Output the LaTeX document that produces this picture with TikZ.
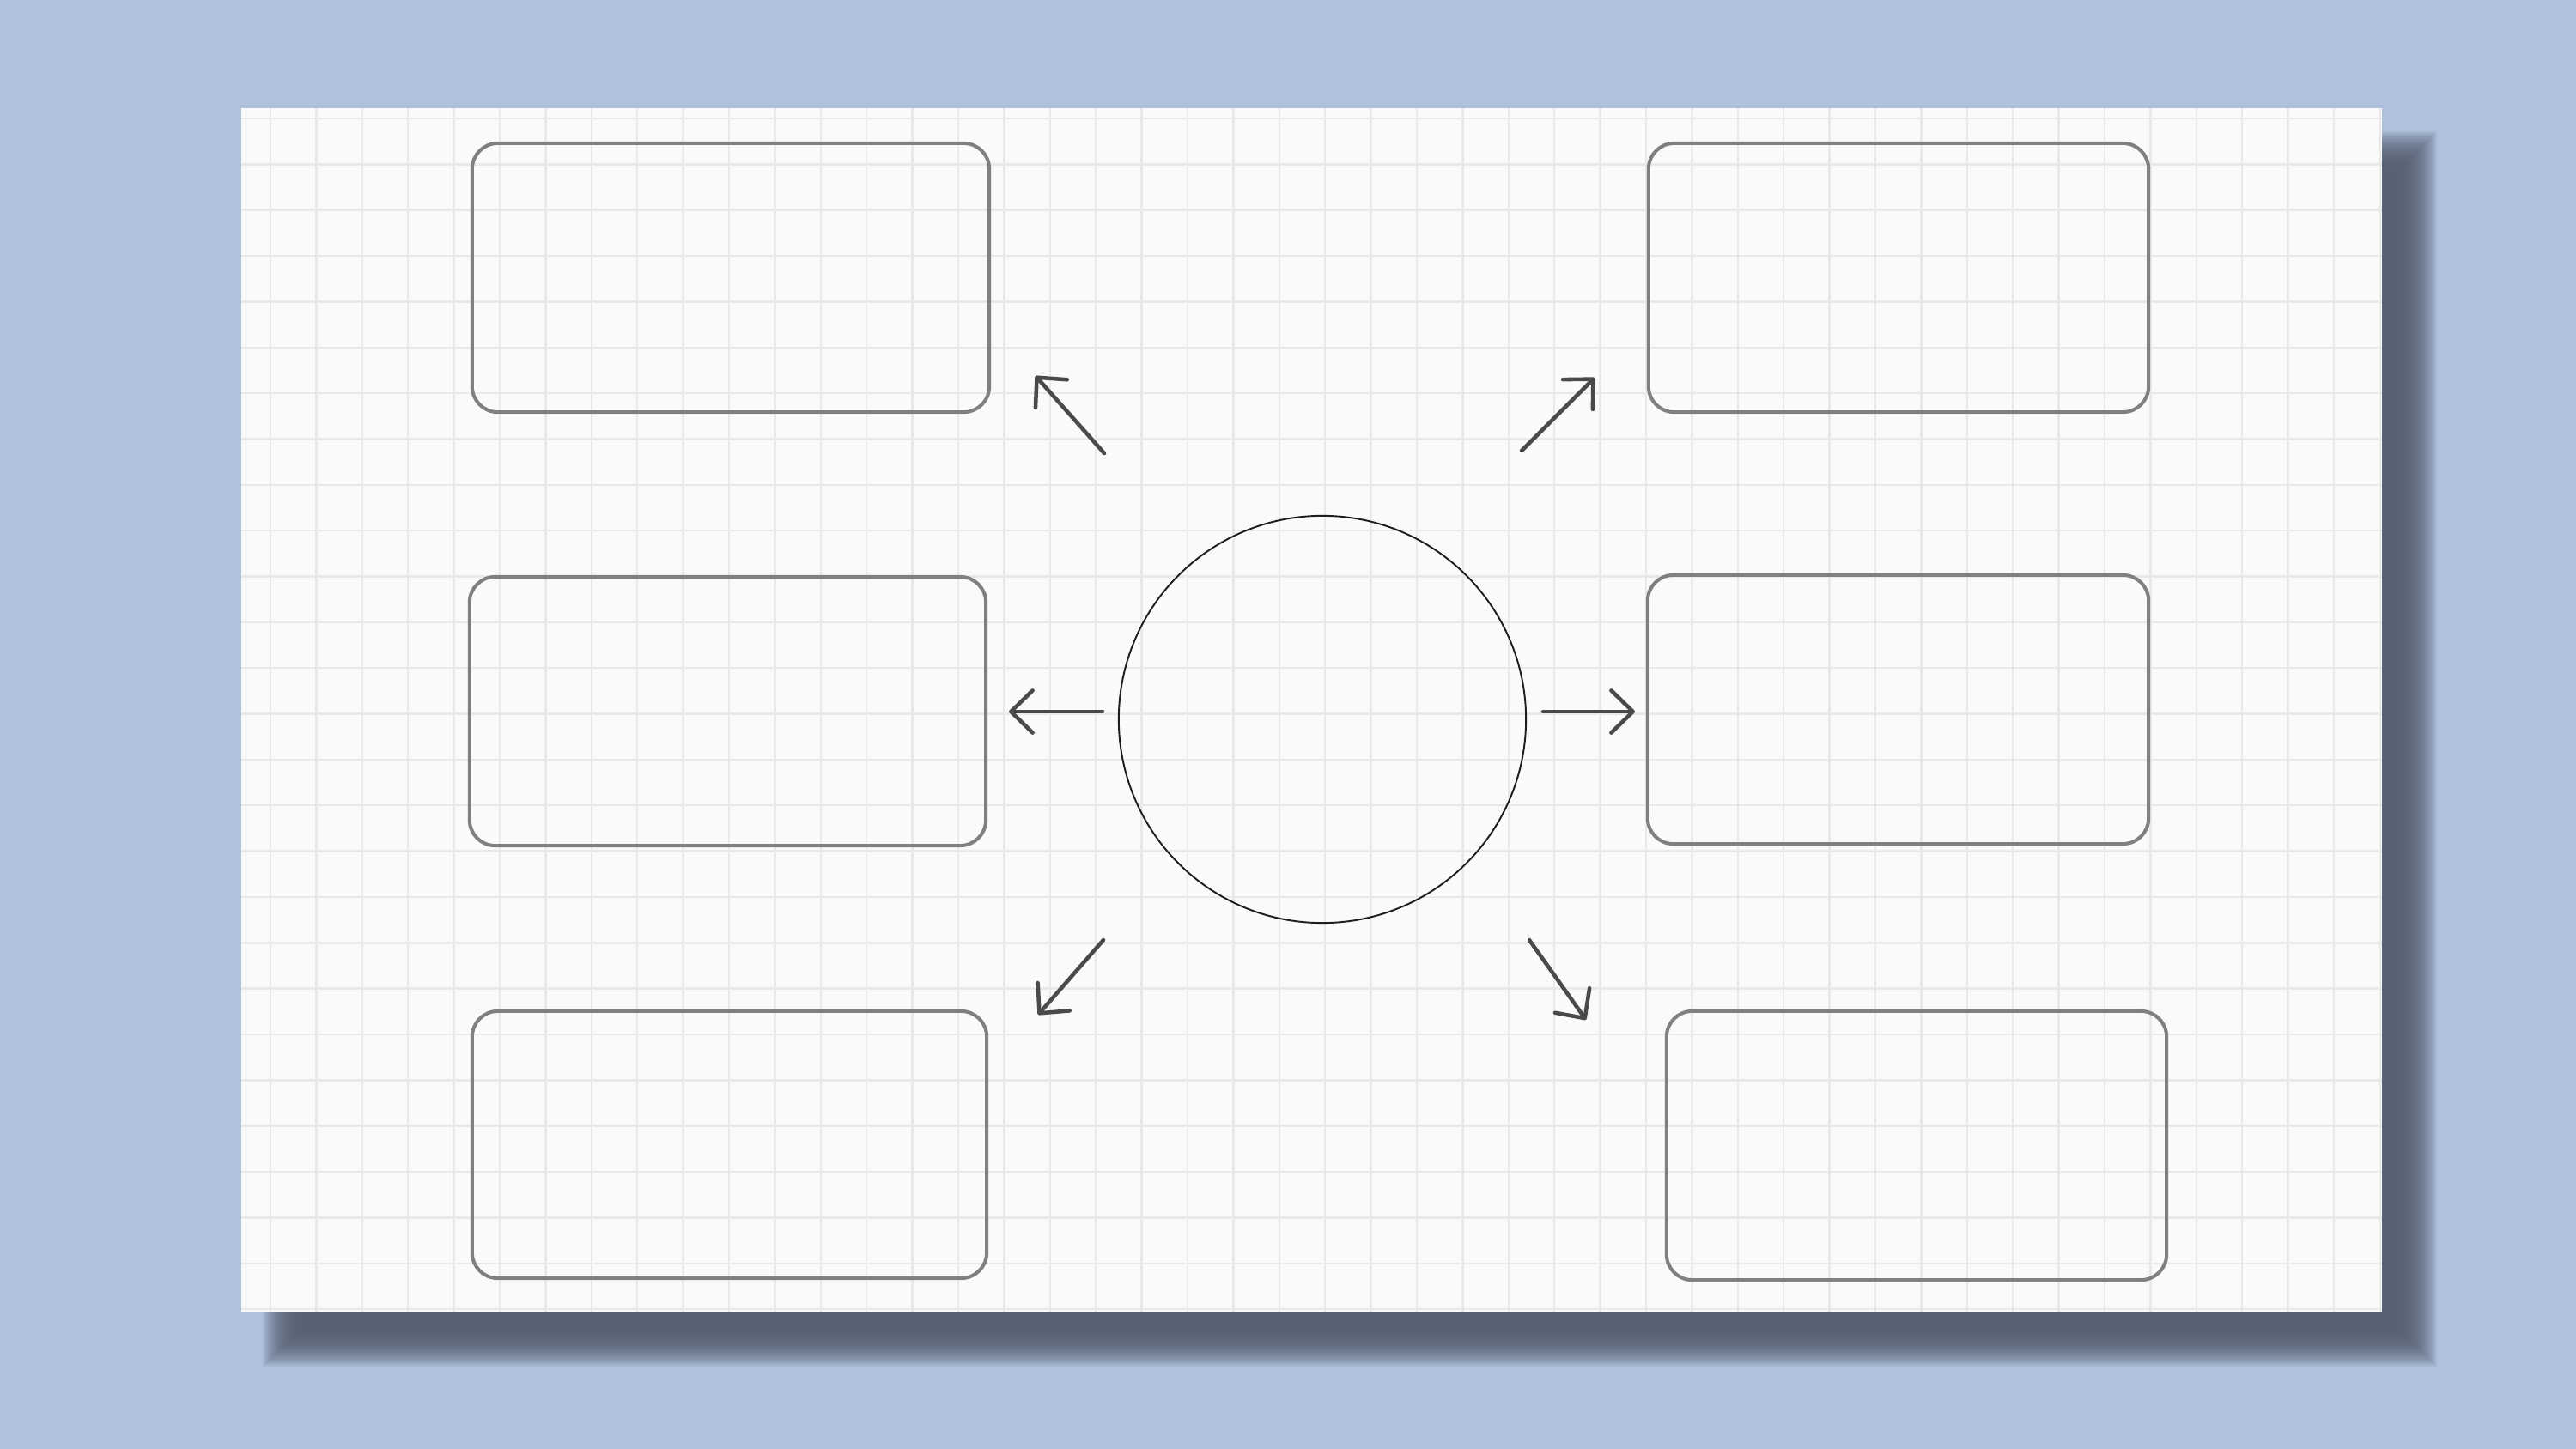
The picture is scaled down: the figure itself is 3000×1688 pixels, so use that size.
\documentclass[tikz,border=0pt]{standalone}
\usetikzlibrary{arrows.meta}
\definecolor{bgc}{RGB}{176,193,222}
\definecolor{shadec}{RGB}{84,93,110}
\definecolor{paperc}{RGB}{250,250,250}
\definecolor{gridc}{RGB}{233,233,233}
\definecolor{boxc}{RGB}{128,128,128}
\definecolor{arrc}{RGB}{74,74,74}
\definecolor{circc}{RGB}{30,30,30}
\begin{document}
\begin{tikzpicture}[x=0.01cm, y=-0.01cm,
  box/.style={draw=boxc, line width=1.15pt, rounded corners=8.5pt, rectangle, inner sep=0pt},
  hub/.style={draw=circc, line width=0.55pt, circle, inner sep=0pt, minimum size=4.74cm},
  ray/.style={draw=arrc, line width=1.3pt, line cap=round, line join=round,
    -{Straight Barb[length=7.2pt, width=14pt, round]}},
  gridline/.style={draw=gridc, line width=0.7pt}]
\useasboundingbox (0,0) rectangle (3000,1688);
\fill[bgc] (0,0) rectangle (3000,1688);
% soft shadow
\foreach \i in {0,...,20} {
  \pgfmathsetmacro{\d}{20-2*\i}
  \fill[shadec, fill opacity=0.11] (326-\d,173-\d) rectangle (2818+\d,1572+\d);
}
% paper
\fill[paperc] (281,126) rectangle (2774,1528);
\begin{scope}
\clip (281,126) rectangle (2774,1528);
\foreach \k in {0,...,46} \draw[gridline] ({315+53.4*\k},126) -- ({315+53.4*\k},1528);
\foreach \j in {0,...,26} \draw[gridline] (281,{138+53.35*\j}) -- (2774,{138+53.35*\j});
\end{scope}
% boxes
\node[box, minimum width=6.02cm, minimum height=3.13cm] (tl) at (851,323.5) {};
\node[box, minimum width=6.01cm, minimum height=3.13cm] (ml) at (847.5,828.5) {};
\node[box, minimum width=5.99cm, minimum height=3.11cm] (bl) at (849.5,1333.5) {};
\node[box, minimum width=5.82cm, minimum height=3.13cm] (tr) at (2211,323.5) {};
\node[box, minimum width=5.83cm, minimum height=3.13cm] (mr) at (2210.5,826.5) {};
\node[box, minimum width=5.82cm, minimum height=3.13cm] (br) at (2232,1334.5) {};
% hub
\node[hub] (hub) at (1540,838) {};
% arrows
\coordinate (ulT) at (1286,528);  \coordinate (ulH) at (1206,438);
\coordinate (mlT) at (1284,829);  \coordinate (mlH) at (1175,829);
\coordinate (llT) at (1285,1095); \coordinate (llH) at (1209,1182);
\coordinate (urT) at (1772,525);  \coordinate (urH) at (1857,440);
\coordinate (mrT) at (1797,829);  \coordinate (mrH) at (1904,829);
\coordinate (lrT) at (1781,1095); \coordinate (lrH) at (1847,1188);
\draw[ray] (ulT) -- (ulH);
\draw[ray] (mlT) -- (mlH);
\draw[ray] (llT) -- (llH);
\draw[ray] (urT) -- (urH);
\draw[ray] (mrT) -- (mrH);
\draw[ray] (lrT) -- (lrH);
\end{tikzpicture}
\end{document}
